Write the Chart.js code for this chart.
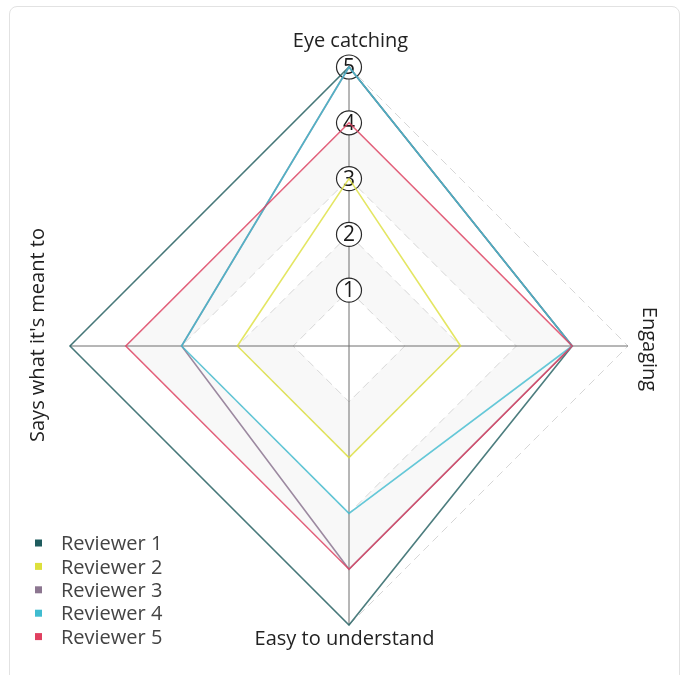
<!DOCTYPE html>
<html>
<head>
<meta charset="utf-8">
<script src="https://cdn.jsdelivr.net/npm/chart.js@4.4.1/dist/chart.umd.min.js"></script>
<style>
  html, body { margin: 0; padding: 0; background: #ffffff; }
  #wrap { position: relative; width: 687px; height: 675px; overflow: hidden; }
  #card { position: absolute; left: 9px; top: 6px; width: 671px; height: 720px;
          border: 1px solid #e2e2e2; border-radius: 8px; box-sizing: border-box; background: #fff; }
  #c { position: absolute; left: 0; top: 0; }
</style>
</head>
<body>
<div id="wrap">
  <div id="card"></div>
  <canvas id="c" width="687" height="675"></canvas>
</div>
<script>
// ---- data ----
const categories = ["Eye catching", "Engaging", "Easy to understand", "Says what it's meant to"];
const seriesNames = ["Reviewer 1", "Reviewer 2", "Reviewer 3", "Reviewer 4", "Reviewer 5"];
const reviewer1 = [5, 4, 5, 5];
const reviewer2 = [3, 2, 2, 2];
const reviewer3 = [5, 4, 4, 3];
const reviewer4 = [5, 4, 3, 3];
const reviewer5 = [4, 4, 4, 4];
const tickValues = [1, 2, 3, 4, 5];
const tickLabels = ["1", "2", "3", "4", "5"];
const shadedBands = [[1, 2], [3, 4]];

// ---- styles ----
const seriesColors = ["#1f5c5e", "#dde03c", "#8c7690", "#40bcd0", "#e04060"];
const lineColors = ["rgba(31,92,94,0.8)", "rgba(221,224,60,0.8)", "rgba(140,118,144,0.85)", "rgba(64,188,208,0.8)", "rgba(224,64,96,0.8)"];
const FONT = "'Open Sans', 'Noto Sans', sans-serif";

const allSeries = [reviewer1, reviewer2, reviewer3, reviewer4, reviewer5];

const bandPlugin = {
  id: 'bands',
  beforeDraw(chart) {
    const s = chart.scales.r; const ctx = chart.ctx; const n = chart.data.labels.length;
    ctx.save();
    ctx.fillStyle = '#f8f8f8';
    shadedBands.forEach(([lo, hi]) => {
      ctx.beginPath();
      for (let i = 0; i < n; i++) { const p = s.getPointPositionForValue(i, hi); i ? ctx.lineTo(p.x, p.y) : ctx.moveTo(p.x, p.y); }
      ctx.closePath();
      for (let i = 0; i < n; i++) { const p = s.getPointPositionForValue(i, lo); i ? ctx.lineTo(p.x, p.y) : ctx.moveTo(p.x, p.y); }
      ctx.closePath();
      ctx.fill('evenodd');
    });
    ctx.restore();
  }
};

const tickPlugin = {
  id: 'circledTicks',
  beforeDatasetsDraw(chart) {
    const s = chart.scales.r; const ctx = chart.ctx;
    ctx.save();
    tickValues.forEach((v, i) => {
      const p = s.getPointPositionForValue(0, v);
      ctx.beginPath();
      ctx.ellipse(p.x, p.y, 12.5, 12, 0, 0, Math.PI * 2);
      ctx.fillStyle = '#ffffff';
      ctx.fill();
      ctx.lineWidth = 1.2;
      ctx.strokeStyle = '#2a2a2a';
      ctx.stroke();
      ctx.fillStyle = '#1a1a1a';
      ctx.font = "21px " + FONT;
      ctx.textAlign = 'center';
      ctx.textBaseline = 'middle';
      ctx.fillText(tickLabels[i], p.x, p.y + 1);
    });
    ctx.restore();
  }
};

const labelOffsets = [26.5, 20.5, 13.5, 31.5];
const labelRotations = [0, Math.PI / 2, 0, -Math.PI / 2];
const labelShift = [[1.5, 1], [0, 3], [-4.5, 1], [0, -11]];
const pointLabelPlugin = {
  id: 'rotLabels',
  afterDatasetsDraw(chart) {
    const s = chart.scales.r; const ctx = chart.ctx;
    ctx.save();
    ctx.font = "20px " + FONT;
    ctx.fillStyle = '#222222';
    ctx.textAlign = 'center';
    ctx.textBaseline = 'middle';
    chart.data.labels.forEach((lab, i) => {
      const p = s.getPointPosition(i, s.drawingArea + labelOffsets[i]);
      ctx.save();
      ctx.translate(p.x + labelShift[i][0], p.y + labelShift[i][1]);
      ctx.rotate(labelRotations[i]);
      ctx.fillText(lab, 0, 0);
      ctx.restore();
    });
    ctx.restore();
  }
};

const legendPlugin = {
  id: 'customLegend',
  afterDraw(chart) {
    const ctx = chart.ctx;
    ctx.save();
    ctx.font = "20px " + FONT;
    ctx.textAlign = 'left';
    ctx.textBaseline = 'middle';
    chart.data.datasets.forEach((ds, i) => {
      const y = 542.5 + i * 23.4;
      ctx.fillStyle = seriesColors[i];
      ctx.fillRect(35, y - 3, 7, 7);
      ctx.fillStyle = '#444444';
      ctx.fillText(ds.label, 61, y + 2);
    });
    ctx.restore();
  }
};

new Chart(document.getElementById('c'), {
  type: 'radar',
  data: {
    labels: categories,
    datasets: seriesNames.map((name, i) => ({
      label: name,
      data: allSeries[i],
      borderColor: lineColors[i],
      backgroundColor: seriesColors[i],
      borderWidth: 1.6,
      pointRadius: 0,
      pointHoverRadius: 0,
      fill: false,
      tension: 0,
      order: seriesNames.length - i
    }))
  },
  options: {
    responsive: false,
    animation: false,
    devicePixelRatio: 1,
    layout: { padding: { left: 70, right: 59, top: 67, bottom: 50 } },
    plugins: { legend: { display: false }, tooltip: { enabled: false } },
    elements: { line: { borderJoinStyle: 'miter' } },
    scales: {
      r: {
        min: 0,
        max: 5,
        startAngle: 0,
        ticks: { display: false, stepSize: 1 },
        pointLabels: { display: false },
        angleLines: { display: true, color: '#6e6e6e', lineWidth: 1 },
        grid: { color: '#d6d6d6', lineWidth: 1, borderDash: [8, 5] },
        border: { dash: [8, 5] }
      }
    }
  },
  plugins: [bandPlugin, tickPlugin, pointLabelPlugin, legendPlugin]
});
</script>
</body>
</html>
